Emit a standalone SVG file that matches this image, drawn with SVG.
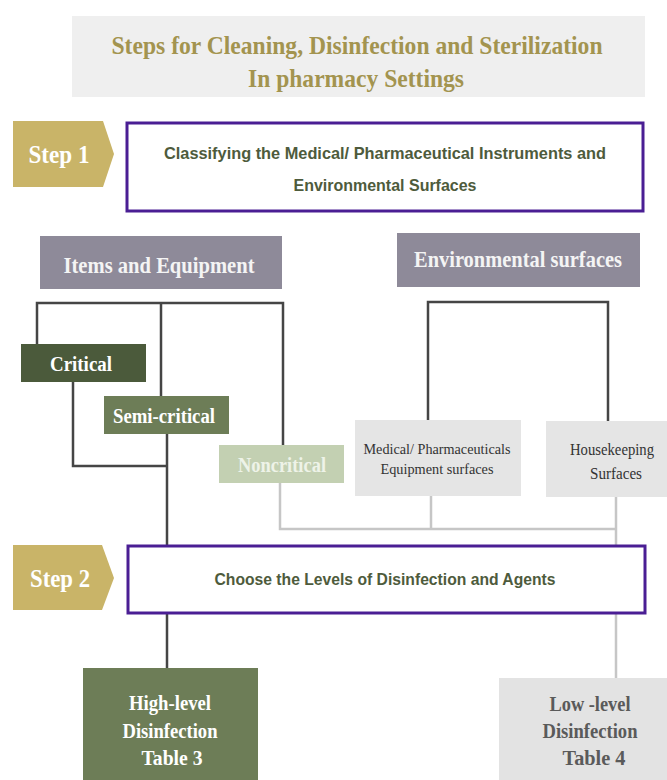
<svg xmlns="http://www.w3.org/2000/svg" width="667" height="780" viewBox="0 0 667 780">
<style>
text{font-family:"Liberation Serif","Times New Roman",serif;font-weight:bold;text-anchor:middle;dominant-baseline:central}
.title{fill:#a3944f;font-size:25px}
.step{fill:#ffffff;font-size:26px}
.stepbox{fill:#ffffff;stroke:#4a1e94;stroke-width:3}
.steptxt{fill:#4e5b3c;font-size:17px;font-family:"Liberation Sans",Arial,sans-serif}
.cat{fill:#8e8a99}
.cattxt{fill:#f4f4f4;font-size:23px}
.lvl{fill:#ffffff;font-size:20px}
.gray{fill:#e5e5e5}
.graytxt{fill:#333333;font-size:15px;font-weight:normal}
.dark{fill:none;stroke:#454545;stroke-width:2.5}
.light{fill:none;stroke:#c6c6c6;stroke-width:2.5}
</style>
<rect width="667" height="780" fill="#ffffff"/>
<g id="connectors">
<path class="dark" d="M37,344 V303 H283 V445 M161,303 V396 M73,382 V466 H167 M167,434 V668 M428,420 V302 H608 V421"/>
<path class="light" d="M280,483 V529 H616 M431,496 V529 M616,497 V678"/>
</g>
<g id="title">
<rect x="72" y="16" width="573" height="81" fill="#efefef"/>
<text class="title" x="357" y="45" textLength="491" lengthAdjust="spacingAndGlyphs">Steps for Cleaning, Disinfection and Sterilization</text>
<text class="title" x="356" y="78" textLength="216" lengthAdjust="spacingAndGlyphs">In pharmacy Settings</text>
</g>
<g id="step1-tag">
<polygon points="13,121 103,121 114,154 103,187 13,187" fill="#c9b468"/>
<text class="step" x="59" y="154" textLength="61" lengthAdjust="spacingAndGlyphs">Step 1</text>
</g>
<g id="step1">
<rect class="stepbox" x="127" y="123" width="516" height="88"/>
<text class="steptxt" x="385" y="153" textLength="442" lengthAdjust="spacingAndGlyphs">Classifying the Medical/ Pharmaceutical Instruments and</text>
<text class="steptxt" x="385" y="185" textLength="183" lengthAdjust="spacingAndGlyphs">Environmental Surfaces</text>
</g>
<g id="items">
<rect class="cat" x="40" y="236" width="242" height="53"/>
<text class="cattxt" x="159" y="265" textLength="191" lengthAdjust="spacingAndGlyphs">Items and Equipment</text>
</g>
<g id="env">
<rect class="cat" x="397" y="233" width="243" height="54"/>
<text class="cattxt" x="518" y="259" textLength="208" lengthAdjust="spacingAndGlyphs">Environmental surfaces</text>
</g>
<g id="critical">
<rect x="21" y="344" width="125" height="38" fill="#4b5a3b"/>
<text class="lvl" x="81" y="364" textLength="62" lengthAdjust="spacingAndGlyphs">Critical</text>
</g>
<g id="semicritical">
<rect x="104" y="396" width="125" height="38" fill="#6d7d57"/>
<text class="lvl" x="164" y="416" textLength="102" lengthAdjust="spacingAndGlyphs">Semi-critical</text>
</g>
<g id="noncritical">
<rect x="219" y="445" width="125" height="38" fill="#c3d0b2"/>
<text class="lvl" x="282" y="465" textLength="88" lengthAdjust="spacingAndGlyphs" style="fill:#eef3e8">Noncritical</text>
</g>
<g id="medical">
<rect class="gray" x="355" y="420" width="166" height="76"/>
<text class="graytxt" x="437" y="449" textLength="147" lengthAdjust="spacingAndGlyphs">Medical/ Pharmaceuticals</text>
<text class="graytxt" x="437" y="469" textLength="113" lengthAdjust="spacingAndGlyphs">Equipment surfaces</text>
</g>
<g id="housekeeping">
<rect class="gray" x="546" y="421" width="121" height="76"/>
<text class="graytxt" x="612" y="449" textLength="84" lengthAdjust="spacingAndGlyphs" style="font-size:16px">Housekeeping</text>
<text class="graytxt" x="616" y="473" textLength="52" lengthAdjust="spacingAndGlyphs" style="font-size:16px">Surfaces</text>
</g>
<g id="step2-tag">
<polygon points="13,545 102,545 114,578 102,610 13,610" fill="#c9b468"/>
<text class="step" x="60" y="578" textLength="60" lengthAdjust="spacingAndGlyphs">Step 2</text>
</g>
<g id="step2">
<rect class="stepbox" x="128" y="546" width="517" height="67"/>
<text class="steptxt" x="385" y="579" textLength="341" lengthAdjust="spacingAndGlyphs">Choose the Levels of Disinfection and Agents</text>
</g>
<g id="highlevel">
<rect x="83" y="668" width="175" height="112" fill="#6d7d57"/>
<text class="lvl" x="170" y="703" textLength="82" lengthAdjust="spacingAndGlyphs">High-level</text>
<text class="lvl" x="170" y="731" textLength="95" lengthAdjust="spacingAndGlyphs">Disinfection</text>
<text class="lvl" x="172" y="758" textLength="61" lengthAdjust="spacingAndGlyphs">Table  3</text>
</g>
<g id="lowlevel">
<rect x="499" y="678" width="168" height="102" fill="#e3e3e3"/>
<text class="lvl" x="590" y="704" textLength="81" lengthAdjust="spacingAndGlyphs" style="fill:#5a5a5a">Low -level</text>
<text class="lvl" x="590" y="731" textLength="95" lengthAdjust="spacingAndGlyphs" style="fill:#5a5a5a">Disinfection</text>
<text class="lvl" x="594" y="758" textLength="63" lengthAdjust="spacingAndGlyphs" style="fill:#5a5a5a">Table  4</text>
</g>
</svg>
